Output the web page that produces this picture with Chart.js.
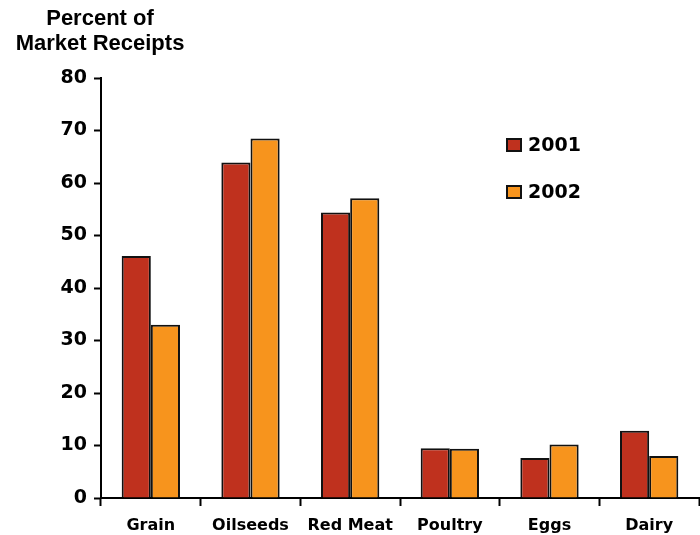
<!DOCTYPE html>
<html>
<head>
<meta charset="utf-8">
<script src="https://cdn.jsdelivr.net/npm/chart.js"></script>
<style>
  body { margin: 0; background: #fff; }
  #chart { display: block; }
</style>
</head>
<body>
<canvas id="chart" width="700" height="535"></canvas>
<script>
// Datos
const categorias = ['Grain', 'Oilseeds', 'Red Meat', 'Poultry', 'Eggs', 'Dairy'];
const anios = ['2001', '2002'];
const valores2001 = [46.1, 63.9, 54.4, 9.5, 7.6, 12.8];
const valores2002 = [33.0, 68.5, 57.1, 9.4, 10.2, 8.0];
const ticksY = [0, 10, 20, 30, 40, 50, 60, 70, 80];
const tituloEje = ['Percent of', 'Market Receipts'];

const colores = ['#BF311E', '#F7941D'];

// Título del eje Y arriba a la izquierda
const tituloEjePlugin = {
    id: 'tituloEje',
    afterDraw(chart) {
        const ctx = chart.ctx;
        ctx.save();
        ctx.fillStyle = '#000';
        ctx.font = 'bold 22px "Liberation Sans", Arial, sans-serif';
        ctx.textAlign = 'center';
        ctx.textBaseline = 'alphabetic';
        ctx.fillText(tituloEje[0], 100, 25);
        ctx.fillText(tituloEje[1], 100, 50);
        ctx.restore();
    }
};

// Leyenda dibujada a mano dentro del área
const leyendaPlugin = {
    id: 'leyenda',
    afterDraw(chart) {
        const ctx = chart.ctx;
        ctx.save();
        chart.data.datasets.forEach((ds, i) => {
            const y = 139 + i * 47;
            ctx.fillStyle = ds.backgroundColor;
            ctx.fillRect(507, y, 14, 12);
            ctx.strokeStyle = '#111';
            ctx.lineWidth = 2;
            ctx.strokeRect(507, y, 14, 12);
            ctx.fillStyle = '#000';
            ctx.font = 'bold 19px "DejaVu Sans", sans-serif';
            ctx.textAlign = 'left';
            ctx.textBaseline = 'middle';
            ctx.fillText(ds.label, 528, y + 7);
        });
        ctx.restore();
    }
};

new Chart(document.getElementById('chart'), {
    type: 'bar',
    data: {
        labels: categorias,
        datasets: [{
            label: anios[0],
            data: valores2001,
            backgroundColor: colores[0],
            borderColor: '#111',
            borderWidth: 2,
            categoryPercentage: 0.585,
            barPercentage: 1
        }, {
            label: anios[1],
            data: valores2002,
            backgroundColor: colores[1],
            borderColor: '#111',
            borderWidth: 2,
            categoryPercentage: 0.585,
            barPercentage: 1
        }]
    },
    options: {
        responsive: false,
        animation: false,
        layout: { padding: { top: 78, right: 1, left: 0, bottom: 0 } },
        plugins: {
            legend: { display: false },
            tooltip: { enabled: false }
        },
        scales: {
            x: {
                afterFit(scale) { scale.height = 37; },
                border: { color: '#000', width: 2 },
                grid: {
                    offset: true,
                    drawOnChartArea: false,
                    tickLength: 8,
                    tickWidth: 2,
                    tickColor: '#000'
                },
                ticks: {
                    color: '#000',
                    padding: 10,
                    font: { family: 'DejaVu Sans', weight: 'bold', size: 16 }
                }
            },
            y: {
                min: 0,
                max: 80,
                afterFit(scale) { scale.width = 101; },
                afterBuildTicks(scale) { scale.ticks = ticksY.map(v => ({ value: v })); },
                border: { color: '#000', width: 2 },
                grid: {
                    drawOnChartArea: false,
                    tickLength: 7,
                    tickWidth: 2,
                    tickColor: '#000'
                },
                ticks: {
                    color: '#000',
                    padding: 7,
                    font: { family: 'DejaVu Sans', weight: 'bold', size: 19 }
                }
            }
        }
    },
    plugins: [tituloEjePlugin, leyendaPlugin]
});
</script>
</body>
</html>
